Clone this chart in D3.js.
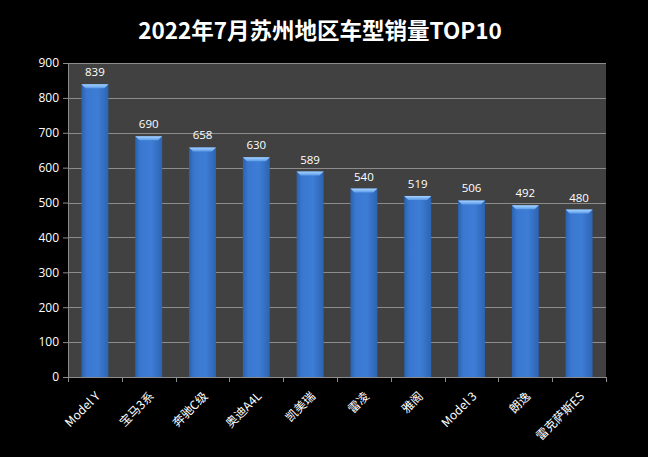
<!DOCTYPE html>
<html><head><meta charset="utf-8">
<script src="https://cdn.jsdelivr.net/npm/d3@7"></script>
<style>
html,body{margin:0;padding:0;background:#000;}
svg{display:block;}
</style></head>
<body>
<svg id="chart" width="648" height="457"></svg>
<script>
const categories = ["Model Y","宝马3系","奔驰C级","奥迪A4L","凯美瑞","雷凌","雅阁","Model 3","朗逸","雷克萨斯ES"];
const sales = [839,690,658,630,589,540,519,506,492,480];
const yTicks = [0,100,200,300,400,500,600,700,800,900];
const title = "2022年7月苏州地区车型销量TOP10";

const svg = d3.select("#chart");
const W = 648, H = 457;
const m = {left:68, right:42, top:63, bottom:80};
const x = d3.scaleBand().domain(categories).range([m.left, W-m.right]).paddingInner(0.5).paddingOuter(0.25);
const y = d3.scaleLinear().domain([0,900]).range([H-m.bottom, m.top]);

svg.append("rect").attr("width",W).attr("height",H).attr("fill","#000");

const defs = svg.append("defs");
const g1 = defs.append("linearGradient").attr("id","barGrad").attr("x1","0").attr("x2","1").attr("y1","0").attr("y2","0");
g1.append("stop").attr("offset","0").attr("stop-color","#2a62b0");
g1.append("stop").attr("offset","0.2").attr("stop-color","#3a78d0");
g1.append("stop").attr("offset","0.6").attr("stop-color","#3e7dd6");
g1.append("stop").attr("offset","1").attr("stop-color","#2c64b2");
const g2 = defs.append("linearGradient").attr("id","capGrad").attr("x1","0").attr("x2","0").attr("y1","0").attr("y2","1");
g2.append("stop").attr("offset","0").attr("stop-color","#a8d4ff");
g2.append("stop").attr("offset","1").attr("stop-color","#5a9ae8");

// plot area
svg.append("rect").attr("x",m.left).attr("y",m.top)
  .attr("width",W-m.right-m.left).attr("height",H-m.bottom-m.top).attr("fill","#414141");

// gridlines
svg.append("g").selectAll("line").data(yTicks.filter(d=>d>0)).join("line")
  .attr("x1",m.left).attr("x2",W-m.right)
  .attr("y1",d=>Math.round(y(d))+0.5).attr("y2",d=>Math.round(y(d))+0.5)
  .attr("stroke","#8c8c8c").attr("stroke-width",1);

// bars
const bars = svg.append("g").selectAll("g").data(sales).join("g");
bars.append("rect")
  .attr("x",(d,i)=>x(categories[i])).attr("y",d=>y(d))
  .attr("width",x.bandwidth()).attr("height",d=>y(0)-y(d))
  .attr("fill","url(#barGrad)");
bars.append("path")
  .attr("d",(d,i)=>{const x0=x(categories[i]),w=x.bandwidth(),t=y(d);
    return `M${x0},${t}L${x0+w},${t}L${x0+w-4},${t+4}L${x0+4},${t+4}Z`;})
  .attr("fill","url(#capGrad)");

// value labels
svg.append("g").selectAll("text").data(sales).join("text")
  .attr("x",(d,i)=>x(categories[i])+x.bandwidth()/2).attr("y",d=>y(d)-8)
  .attr("text-anchor","middle").attr("fill","#fff")
  .attr("font-family","'Open Sans','DejaVu Sans',sans-serif").attr("font-size",11.5)
  .text(d=>d);

// y axis
const yAxis = svg.append("g").attr("transform",`translate(${m.left},0)`)
  .call(d3.axisLeft(y).tickValues(yTicks).tickSize(5).tickPadding(4));
yAxis.select(".domain").attr("stroke","#8c8c8c");
yAxis.selectAll(".tick line").attr("stroke","#8c8c8c");
yAxis.selectAll("text").attr("fill","#fff").attr("font-size",12)
  .attr("font-family","'Open Sans','DejaVu Sans',sans-serif");

// x axis
const xAxis = svg.append("g").attr("transform",`translate(0,${y(0)})`)
  .call(d3.axisBottom(x).tickSize(0).tickFormat(""));
xAxis.select(".domain").attr("stroke","#8c8c8c");
// category separators
const bounds = d3.range(categories.length+1).map(i=>m.left + i*x.step());
svg.append("g").selectAll("line").data(bounds).join("line")
  .attr("x1",d=>Math.round(d)+0.5).attr("x2",d=>Math.round(d)+0.5)
  .attr("y1",y(0)).attr("y2",y(0)+5).attr("stroke","#8c8c8c");
svg.append("g").selectAll("text").data(categories).join("text")
  .attr("transform",d=>`translate(${x(d)+x.bandwidth()/2+3},${y(0)+17}) rotate(-45)`)
  .attr("text-anchor","end").attr("dy","0.35em").attr("fill","#fff")
  .attr("font-size",12).attr("font-family","'Noto Sans CJK SC','Open Sans',sans-serif")
  .text(d=>d);

// title
svg.append("text").attr("x",320).attr("y",39).attr("text-anchor","middle")
  .attr("fill","#fff").attr("font-weight","bold").attr("font-size",22.5)
  .attr("font-family","'Noto Sans CJK SC',sans-serif").text(title);
</script>
</body></html>
